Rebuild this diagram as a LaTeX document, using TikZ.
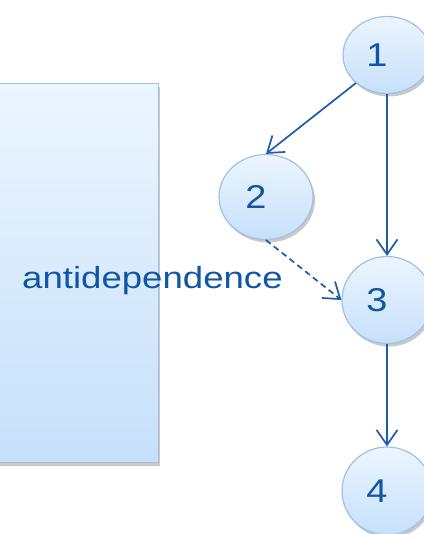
\documentclass[tikz,border=0pt]{standalone}
\usepackage{fontspec}
\setmainfont{Liberation Sans}
\usetikzlibrary{shapes.geometric,arrows.meta,shadows}
\definecolor{edgecol}{RGB}{28,92,170}
\definecolor{txtcol}{RGB}{16,86,166}
\definecolor{filltop}{RGB}{236,245,254}
\definecolor{fillbot}{RGB}{198,224,250}
\definecolor{bordcol}{RGB}{160,192,230}
\newcommand{\digit}[1]{\hspace*{-20pt}\scalebox{1.15}[1]{#1}}
\begin{document}
\begin{tikzpicture}[x=1pt,y=-1pt,
  softshadow/.style={drop shadow={shadow xshift=2pt,shadow yshift=-3pt,opacity=0.3,fill=black!70}},
  vert/.style={ellipse,draw=bordcol,line width=1.2pt,top color=filltop,bottom color=fillbot,
    text=txtcol,font=\fontsize{33}{36}\selectfont,inner sep=0pt,softshadow},
  panel/.style={rectangle,draw=bordcol,line width=1.2pt,top color=filltop,bottom color=fillbot,
    inner sep=0pt,softshadow},
  edge/.style={draw=edgecol,line width=1.7pt,-{Straight Barb[length=15pt,width=21pt]}},
  lbl/.style={text=txtcol,font=\fontsize{30.5}{34}\selectfont,inner sep=0pt}]
\useasboundingbox (0,0) rectangle (423,534);
\node[panel,minimum width=175pt,minimum height=379pt,anchor=north east] (pan) at (159,83) {};
\node[lbl,anchor=base west] (anti) at (22,288) {\scalebox{1.2}[1]{antidependence}};
\node[vert,minimum width=88pt,minimum height=77pt] (n1) at (387,55) {\digit{1}};
\node[vert,minimum width=94pt,minimum height=85pt] (n2) at (266,197) {\digit{2}};
\node[vert,minimum width=90pt,minimum height=87pt] (n3) at (387,300) {\digit{3}};
\node[vert,minimum width=90pt,minimum height=88pt] (n4) at (387,491) {\digit{4}};
\draw[edge] (n1.222) -- (n2.north);
\draw[edge] (n1.south) -- (n3.north);
\draw[edge,dash pattern=on 6pt off 4pt] (n2.south) -- (n3.west);
\draw[edge] (n3.south) -- (n4.north);
\end{tikzpicture}
\end{document}
